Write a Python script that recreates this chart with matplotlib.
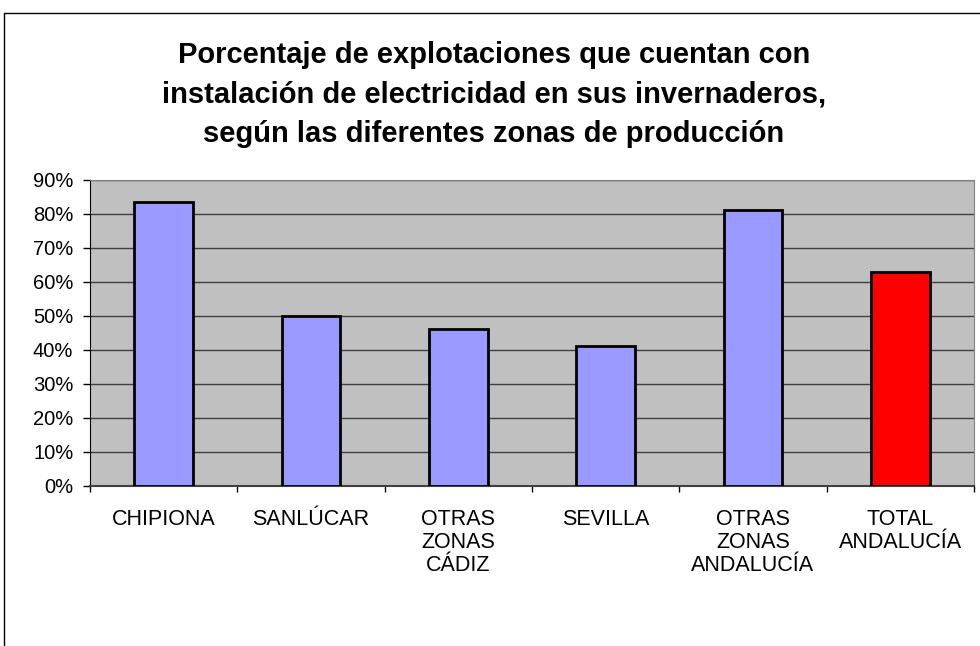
import matplotlib
matplotlib.use("Agg")
import matplotlib.pyplot as plt
from matplotlib.patches import Rectangle
from matplotlib.ticker import MultipleLocator, PercentFormatter

# data
zonas = ["CHIPIONA", "SANLÚCAR", "OTRAS\nZONAS\nCÁDIZ", "SEVILLA",
         "OTRAS\nZONAS\nANDALUCÍA", "TOTAL\nANDALUCÍA"]
porcentajes = [83.5, 50.0, 46.0, 41.0, 81.0, 62.8]
colores = ["#9999FF"] * 5 + ["#FF0000"]

titulo = ("Porcentaje de explotaciones que cuentan con\n"
          "instalación de electricidad en sus invernaderos,\n"
          "según las diferentes zonas de producción")

plt.rcParams["font.family"] = ["Liberation Sans", "DejaVu Sans"]

fig = plt.figure(figsize=(9.8, 6.46), dpi=100)
ax = fig.add_axes([0.0918, 0.2481, 0.9021, 0.4737])

x = range(len(zonas))
ax.bar(x, porcentajes, width=0.4, color=colores, edgecolor="black",
       linewidth=2, zorder=3)

ax.set_facecolor("#C0C0C0")
ax.set_xlim(-0.5, len(zonas) - 0.5)
ax.set_ylim(0, 90)
ax.yaxis.set_major_locator(MultipleLocator(10))
ax.yaxis.set_major_formatter(PercentFormatter(decimals=0))
ax.grid(axis="y", color="#404040", linewidth=1, zorder=1)

# category ticks sit between the bars
ax.set_xticks([i - 0.5 for i in range(len(zonas) + 1)], minor=False)
ax.set_xticklabels([])
ax.set_xticks(list(x), minor=True)
ax.set_xticklabels(zonas, minor=True, fontsize=15.5, linespacing=1.12,
                   va="top")
ax.tick_params(axis="x", which="minor", length=0, pad=17)
ax.tick_params(axis="x", which="major", length=4.5, width=1, color="black")
ax.tick_params(axis="y", length=5, width=1, labelsize=14.5, pad=7)

for side in ["top", "right"]:
    ax.spines[side].set_color("#808080")
ax.spines["left"].set_color("black")
ax.spines["bottom"].set_color("#404040")
ax.spines["bottom"].set_linewidth(1.5)

fig.text(0.504, 0.937, titulo, ha="center", va="top", fontsize=21,
         fontweight="bold", linespacing=1.53)

# outer chart border
fig.patches.append(Rectangle((4 / 980, -0.1), 1.2, (646 - 13) / 646 + 0.1,
                             transform=fig.transFigure, fill=False,
                             edgecolor="black", linewidth=1))

fig.savefig("out.png", dpi=100)
